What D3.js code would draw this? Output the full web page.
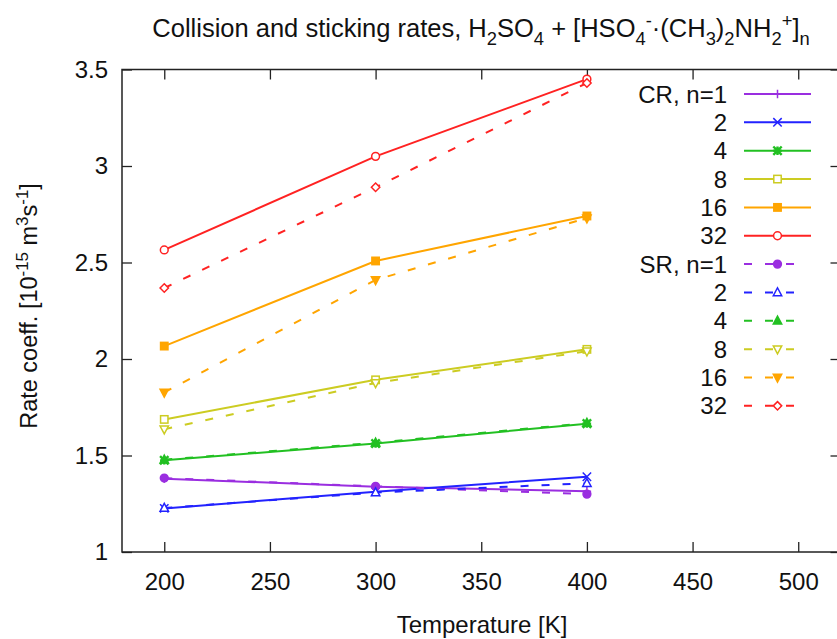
<!DOCTYPE html>
<html lang="en">
<head>
    <meta charset="utf-8">
    <title>Collision and sticking rates</title>
    <script src="https://d3js.org/d3.v7.min.js"></script>
    <style>
        body {
            margin: 0;
            background: white;
            font-family: 'Liberation Sans', Arial, sans-serif;
        }
        text {
            fill: #111;
        }
        .axis path {
            display: none;
        }
        .axis line {
            stroke: #222;
            stroke-width: 1.3;
        }
        .axis text {
            font-size: 24px;
            font-family: 'Liberation Sans', Arial, sans-serif;
            fill: #111;
        }
    </style>
</head>
<body>
    <div id="chart"></div>

    <script>
        // temperatures [K]
        const temps = [200, 300, 400];
        const sizes = ["1", "2", "4", "8", "16", "32"];

        // collision rates (solid lines), one row per cluster size n
        const crRates = [
            [1.380, 1.338, 1.315],
            [1.226, 1.312, 1.390],
            [1.475, 1.562, 1.665],
            [1.687, 1.892, 2.050],
            [2.067, 2.508, 2.741],
            [2.565, 3.050, 3.450]
        ];

        // sticking rates (dashed lines)
        const srRates = [
            [1.383, 1.340, 1.300],
            [1.228, 1.308, 1.356],
            [1.478, 1.566, 1.668],
            [1.636, 1.876, 2.040],
            [1.827, 2.410, 2.730],
            [2.368, 2.890, 3.430]
        ];

        const colors = ["#9a2ee0", "#2222ff", "#22c022", "#cccc22", "#ffa500", "#ff2222"];
        const crMarks = ["plus", "cross", "star", "squareOpen", "squareFill", "circleOpen"];
        const srMarks = ["circleFill", "triOpen", "triFill", "itriOpen", "itriFill", "diamondOpen"];

        const xTicks = [200, 250, 300, 350, 400, 450, 500];
        const yTicks = [1, 1.5, 2, 2.5, 3, 3.5];

        const W = 837, H = 639;
        const svg = d3.select("#chart")
            .append("svg")
            .attr("width", W)
            .attr("height", H);

        const x = d3.scaleLinear().domain([180, 520]).range([122, 840.5]);
        const y = d3.scaleLinear().domain([1, 3.5]).range([552, 69.5]);

        // axes with inward ticks (gnuplot style, mirrored)
        svg.append("g")
            .attr("class", "axis")
            .attr("transform", `translate(0,${y(1)})`)
            .call(d3.axisBottom(x).tickValues(xTicks).tickSizeInner(-10).tickSizeOuter(0).tickPadding(21));

        svg.append("g")
            .attr("class", "axis")
            .attr("transform", `translate(0,${y(3.5)})`)
            .call(d3.axisTop(x).tickValues(xTicks).tickSizeInner(-10).tickSizeOuter(0).tickFormat(""));

        svg.append("g")
            .attr("class", "axis")
            .attr("transform", `translate(${x(180)},0)`)
            .call(d3.axisLeft(y).tickValues(yTicks).tickSizeInner(-10).tickSizeOuter(0).tickPadding(14).tickFormat(d3.format("~g")));

        svg.append("g")
            .attr("class", "axis")
            .attr("transform", `translate(${x(520)},0)`)
            .call(d3.axisRight(y).tickValues(yTicks).tickSizeInner(-10).tickSizeOuter(0).tickFormat(""));

        // frame
        svg.append("rect")
            .attr("x", x(180))
            .attr("y", y(3.5))
            .attr("width", x(520) - x(180))
            .attr("height", y(1) - y(3.5))
            .attr("fill", "none")
            .attr("stroke", "#222")
            .attr("stroke-width", 1.5);

        // text with sub/superscripts
        function richText(sel, parts, size) {
            let shift = 0;
            parts.forEach(p => {
                const t = typeof p === "string" ? {t: p} : p;
                let target = 0;
                if (t.sub) target = 0.3 * size;
                if (t.sup) target = -0.4 * size;
                sel.append("tspan")
                    .attr("dy", target - shift)
                    .style("font-size", (t.sub || t.sup) ? (size * 0.72) + "px" : size + "px")
                    .text(t.t);
                shift = target;
            });
        }

        const title = svg.append("text")
            .attr("x", 481)
            .attr("y", 37)
            .attr("text-anchor", "middle")
            .style("font-size", "25.5px");
        richText(title, [
            "Collision and sticking rates, H", {t: "2", sub: true}, "SO", {t: "4", sub: true},
            " + [HSO", {t: "4", sub: true}, {t: "-", sup: true}, "·(CH", {t: "3", sub: true}, ")",
            {t: "2", sub: true}, "NH", {t: "2", sub: true}, {t: "+", sup: true}, "]", {t: "n", sub: true}
        ], 25.5);

        const yLabel = svg.append("text")
            .attr("transform", `translate(37,306) rotate(-90)`)
            .attr("text-anchor", "middle")
            .style("font-size", "23.5px");
        richText(yLabel, [
            "Rate coeff. [10", {t: "-15", sup: true}, " m", {t: "3", sup: true}, "s", {t: "-1", sup: true}, "]"
        ], 23.5);

        svg.append("text")
            .attr("x", 482)
            .attr("y", 633)
            .attr("text-anchor", "middle")
            .style("font-size", "24px")
            .text("Temperature [K]");

        // markers
        function drawMark(g, type, cx, cy, color) {
            const r = 4.2;
            const open = {fill: "white", stroke: color};
            const fill = {fill: color, stroke: color};
            let el;
            switch (type) {
                case "plus":
                    el = g.append("path").attr("d", `M${cx - r},${cy}H${cx + r}M${cx},${cy - r}V${cy + r}`);
                    el.attr("stroke", color).attr("fill", "none");
                    break;
                case "cross":
                    el = g.append("path").attr("d", `M${cx - r},${cy - r}L${cx + r},${cy + r}M${cx - r},${cy + r}L${cx + r},${cy - r}`);
                    el.attr("stroke", color).attr("fill", "none");
                    break;
                case "star":
                    el = g.append("path").attr("d", `M${cx - r},${cy}H${cx + r}M${cx},${cy - r}V${cy + r}M${cx - r},${cy - r}L${cx + r},${cy + r}M${cx - r},${cy + r}L${cx + r},${cy - r}`);
                    el.attr("stroke", color).attr("fill", "none").attr("stroke-width", 2.4);
                    return;
                case "squareOpen":
                case "squareFill":
                    el = g.append("rect").attr("x", cx - r + 0.5).attr("y", cy - r + 0.5).attr("width", 2 * r - 1).attr("height", 2 * r - 1);
                    Object.entries(type === "squareOpen" ? open : fill).forEach(([k, v]) => el.attr(k, v));
                    break;
                case "circleOpen":
                case "circleFill":
                    el = g.append("circle").attr("cx", cx).attr("cy", cy).attr("r", r - 0.3);
                    Object.entries(type === "circleOpen" ? open : fill).forEach(([k, v]) => el.attr(k, v));
                    break;
                case "triOpen":
                case "triFill":
                    el = g.append("path").attr("d", `M${cx},${cy - r - 0.5}L${cx + r},${cy + r - 1}L${cx - r},${cy + r - 1}Z`);
                    Object.entries(type === "triOpen" ? open : fill).forEach(([k, v]) => el.attr(k, v));
                    break;
                case "itriOpen":
                case "itriFill":
                    el = g.append("path").attr("d", `M${cx},${cy + r + 0.5}L${cx + r},${cy - r + 1}L${cx - r},${cy - r + 1}Z`);
                    Object.entries(type === "itriOpen" ? open : fill).forEach(([k, v]) => el.attr(k, v));
                    break;
                case "diamondOpen":
                    el = g.append("path").attr("d", `M${cx},${cy - r}L${cx + r},${cy}L${cx},${cy + r}L${cx - r},${cy}Z`);
                    Object.entries(open).forEach(([k, v]) => el.attr(k, v));
                    break;
            }
            el.attr("stroke-width", 1.5);
        }

        const line = d3.line()
            .x((d, i) => x(temps[i]))
            .y(d => y(d));

        const plot = svg.append("g");

        // series in the order CR then SR, small n first
        const series = [];
        sizes.forEach((n, i) => series.push({label: i === 0 ? "CR, n=" + n : n, vals: crRates[i], color: colors[i], mark: crMarks[i], dash: null}));
        sizes.forEach((n, i) => series.push({label: i === 0 ? "SR, n=" + n : n, vals: srRates[i], color: colors[i], mark: srMarks[i], dash: "8,13"}));

        series.forEach(s => {
            plot.append("path")
                .datum(s.vals)
                .attr("d", line)
                .attr("fill", "none")
                .attr("stroke", s.color)
                .attr("stroke-width", 2)
                .attr("stroke-dasharray", s.dash);
            s.vals.forEach((v, i) => drawMark(plot, s.mark, x(temps[i]), y(v), s.color));
        });

        // legend
        const legend = svg.append("g");
        series.forEach((s, i) => {
            const ly = 94 + i * 28.35;
            legend.append("text")
                .attr("x", 727)
                .attr("y", ly)
                .attr("dy", "0.36em")
                .attr("text-anchor", "end")
                .style("font-size", "24px")
                .text(s.label);
            legend.append("line")
                .attr("x1", 744)
                .attr("x2", s.dash ? 797 : 811)
                .attr("y1", ly)
                .attr("y2", ly)
                .attr("stroke", s.color)
                .attr("stroke-width", 2)
                .attr("stroke-dasharray", s.dash);
            drawMark(legend, s.mark, 777.5, ly, s.color);
        });
    </script>
</body>
</html>
